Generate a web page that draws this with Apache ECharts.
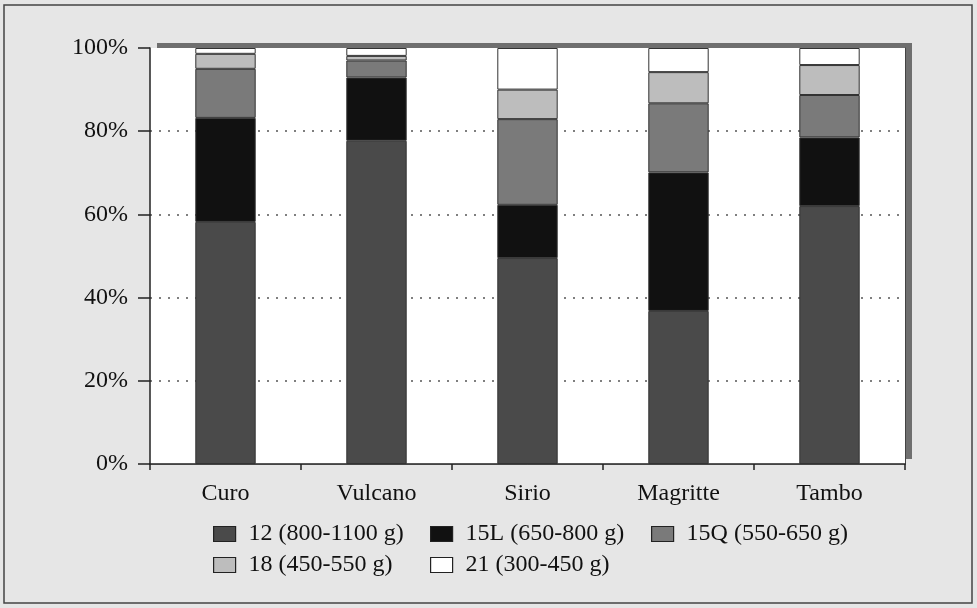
<!DOCTYPE html>
<html><head><meta charset="utf-8">
<script src="https://cdn.jsdelivr.net/npm/echarts@6/dist/echarts.min.js"></script>
<style>html,body{margin:0;padding:0;background:#e6e6e6}#c{width:977px;height:608px}</style>
</head><body><div id="c"></div>
<script>
const categories = ['Curo','Vulcano','Sirio','Magritte','Tambo'];
const s12  = [58.2, 77.7, 49.5, 36.8, 62.0];
const s15L = [25.0, 15.2, 12.8, 33.3, 16.5];
const s15Q = [11.8, 4.1, 20.6, 16.6, 10.2];
const s18  = [3.6, 1.1, 7.1, 7.5, 7.2];
const s21  = [1.4, 1.9, 10.0, 5.8, 4.1];
const seriesNames = ['12 (800-1100 g)','15L (650-800 g)','15Q (550-650 g)','18 (450-550 g)','21 (300-450 g)'];
const yTicks = [0,20,40,60,80,100];
const colors = ['#4a4a4a','#111111','#7a7a7a','#bdbdbd','#ffffff'];
const values = [s12,s15L,s15Q,s18,s21];
const font = 'Liberation Serif';
const chart = echarts.init(document.getElementById('c'));
const legendSlots = [[213,522],[430,522],[651,522],[213,553],[430,553]];
const legends = seriesNames.map((n,i) => ({
  left: legendSlots[i][0], top: legendSlots[i][1], padding: 0,
  data: [n], itemWidth: 22, itemHeight: 15, icon: 'rect',
  formatter: s => '{a|' + s + '}',
  textStyle: {fontFamily: font, fontSize: 24, color: '#111',
    rich: {a: {fontFamily: font, fontSize: 24, color: '#111', padding: [0,0,0,8]}}},
  itemStyle: {borderColor: '#222', borderWidth: 1.2}
}));
chart.setOption({
  backgroundColor: '#e6e6e6',
  animation: false,
  graphic: [{type:'rect', shape:{x:4,y:5,width:968,height:598}, style:{fill:'none', stroke:'#444', lineWidth:1.5}, z:-10}],
  grid: {left:150, right:72, top:48, bottom:144, show:true, backgroundColor:'#fff', borderWidth:0,
         shadowColor:'#6f6f6f', shadowOffsetX:7, shadowOffsetY:-5, shadowBlur:0},
  legend: legends,
  xAxis: [{type:'category', data: categories,
    axisLine:{lineStyle:{color:'#222', width:1.5}},
    axisTick:{show:true, length:6, lineStyle:{color:'#222', width:1.5}},
    axisLabel:{fontFamily:font, fontSize:24, color:'#111', margin:18}},
    {type:'category', data: categories, position:'top',
    axisLine:{show:true, lineStyle:{color:'#444', width:1}},
    axisTick:{show:false}, axisLabel:{show:false}}],
  yAxis: [{type:'value', min:0, max:100, interval:20,
    axisLine:{show:true, lineStyle:{color:'#222', width:1.5}},
    axisTick:{show:true, length:12, lineStyle:{color:'#222', width:1.5}},
    axisLabel:{fontFamily:font, fontSize:24, color:'#111', margin:22,
      formatter: v => yTicks.includes(v) ? v + '%' : ''},
    splitLine:{show:true, showMinLine:false, showMaxLine:false, lineStyle:{color:'#555', type:[2,7], width:1.5}}},
    {type:'value', min:0, max:100, interval:20, position:'right',
    axisLine:{show:true, lineStyle:{color:'#444', width:1}},
    axisTick:{show:false}, axisLabel:{show:false}, splitLine:{show:false}}],
  series: values.map((arr,i) => ({
    name: seriesNames[i], type:'bar', stack:'total', data: arr, barWidth:'40%',
    itemStyle:{color: colors[i], borderColor:'#333', borderWidth:1}
  }))
});
</script></body></html>
